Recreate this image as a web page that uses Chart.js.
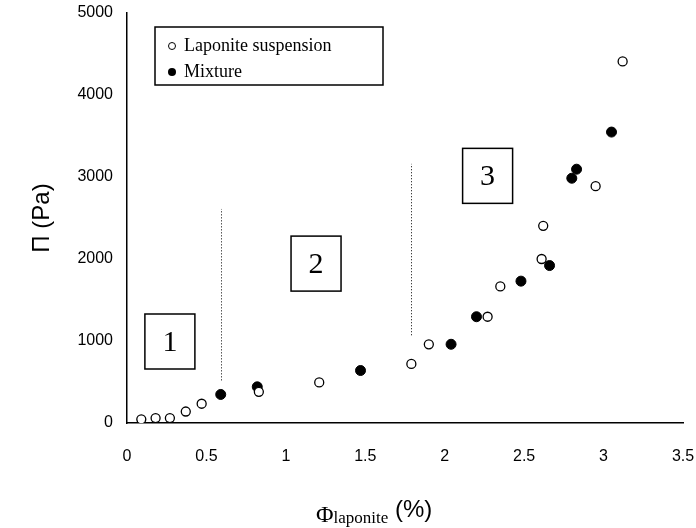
<!DOCTYPE html>
<html>
<head>
<meta charset="utf-8">
<script src="https://cdn.jsdelivr.net/npm/chart.js@4"></script>
<style>
  body { margin: 0; background: #fff; }
</style>
</head>
<body>
<canvas id="grafico" width="696" height="528"></canvas>
<script>
// Laponite suspension (open circles)
const laponiteX = [0.09, 0.18, 0.27, 0.37, 0.47, 0.83, 1.21, 1.79, 1.90, 2.27, 2.35, 2.61, 2.62, 2.95, 3.12];
const laponiteY = [45, 60, 60, 140, 235, 380, 495, 720, 960, 1296, 1665, 2000, 2405, 2888, 4410];
// Mixture (filled circles)
const mixtureX = [0.59, 0.82, 1.47, 2.04, 2.20, 2.48, 2.66, 2.80, 2.83, 3.05];
const mixtureY = [348, 441, 640, 960, 1296, 1730, 1920, 2985, 3095, 3548];
// dotted separators: [x, yFrom, yTo]
const separators = [[0.59, 520, 2610], [1.79, 1070, 3160]];
// region labels: [text, xCenter, yCenter]
const regions = [['1', 0.27, 1000], ['2', 1.19, 1950], ['3', 2.27, 3020]];

const pts = (xs, ys) => xs.map((x, i) => ({ x: x, y: ys[i] }));

const extras = {
    id: 'extras',
    afterDraw(chart) {
        const ctx = chart.ctx;
        const sx = chart.scales.x, sy = chart.scales.y;
        ctx.save();
        // separators
        ctx.strokeStyle = '#000';
        ctx.lineWidth = 1;
        ctx.setLineDash([1, 2]);
        separators.forEach(s => {
            const px = Math.round(sx.getPixelForValue(s[0])) + 0.5;
            ctx.beginPath();
            ctx.moveTo(px, sy.getPixelForValue(s[1]));
            ctx.lineTo(px, sy.getPixelForValue(s[2]));
            ctx.stroke();
        });
        ctx.setLineDash([]);
        // region boxes
        ctx.lineWidth = 1.5;
        ctx.font = '30px "Liberation Serif"';
        ctx.textAlign = 'center';
        ctx.textBaseline = 'middle';
        ctx.fillStyle = '#000';
        regions.forEach(r => {
            const cx = sx.getPixelForValue(r[1]), cy = sy.getPixelForValue(r[2]);
            ctx.strokeRect(cx - 25, cy - 27, 50, 55);
            ctx.fillText(r[0], cx, cy + 2);
        });
        // legend
        ctx.lineWidth = 1.5;
        ctx.strokeRect(155, 27, 228, 58);
        ctx.font = '18px "Liberation Serif"';
        ctx.textAlign = 'left';
        ctx.lineWidth = 1;
        ctx.beginPath(); ctx.arc(172, 46, 3.5, 0, Math.PI * 2); ctx.stroke();
        ctx.fillText('Laponite suspension', 184, 46);
        ctx.beginPath(); ctx.arc(172, 72, 4, 0, Math.PI * 2); ctx.fill();
        ctx.fillText('Mixture', 184, 72);
        // axis titles
        ctx.font = '24px "Liberation Serif"';
        ctx.fillText('\u03A6', 316, 516);
        let w = ctx.measureText('\u03A6').width;
        ctx.font = '17px "Liberation Serif"';
        ctx.fillText('laponite', 316 + w, 519);
        let w2 = ctx.measureText('laponite').width;
        ctx.font = '24px "Liberation Sans"';
        ctx.fillText(' (%)', 316 + w + w2, 510);
        ctx.translate(42, 218);
        ctx.rotate(-Math.PI / 2);
        ctx.textAlign = 'center';
        ctx.font = '24px "Liberation Sans"';
        ctx.fillText('\u03A0 (Pa)', 0, 0);
        ctx.restore();
    }
};

new Chart(document.getElementById('grafico'), {
    type: 'scatter',
    data: {
        datasets: [
            { label: 'Laponite suspension', data: pts(laponiteX, laponiteY), pointRadius: 4.5, pointBackgroundColor: '#fff', pointBorderColor: '#000', pointBorderWidth: 1.3 },
            { label: 'Mixture', data: pts(mixtureX, mixtureY), pointRadius: 5, pointBackgroundColor: '#000', pointBorderColor: '#000', pointBorderWidth: 1 }
        ]
    },
    options: {
        responsive: false,
        animation: false,
        devicePixelRatio: 1,
        layout: { padding: { right: 13, top: 13 } },
        plugins: { legend: { display: false }, tooltip: { enabled: false } },
        scales: {
            x: {
                min: 0, max: 3.5,
                ticks: { stepSize: 0.5, color: '#000', font: { family: 'Liberation Sans', size: 16 }, padding: 18, maxRotation: 0, callback: v => String(v) },
                grid: { display: false, drawTicks: true, tickLength: 6, tickColor: '#000' },
                border: { color: '#000', width: 1.5 },
                afterFit: s => { s.height = 105; s.paddingRight = 0; s.paddingLeft = 0; }
            },
            y: {
                min: 0, max: 5000,
                ticks: { stepSize: 1000, color: '#000', font: { family: 'Liberation Sans', size: 16 }, padding: 8, callback: v => v },
                grid: { display: false, drawTicks: true, tickLength: 6, tickColor: '#000' },
                border: { color: '#000', width: 1.5 },
                afterFit: s => { s.width = 127; s.paddingTop = 0; s.paddingBottom = 0; }
            }
        }
    },
    plugins: [extras]
});
</script>
</body>
</html>
